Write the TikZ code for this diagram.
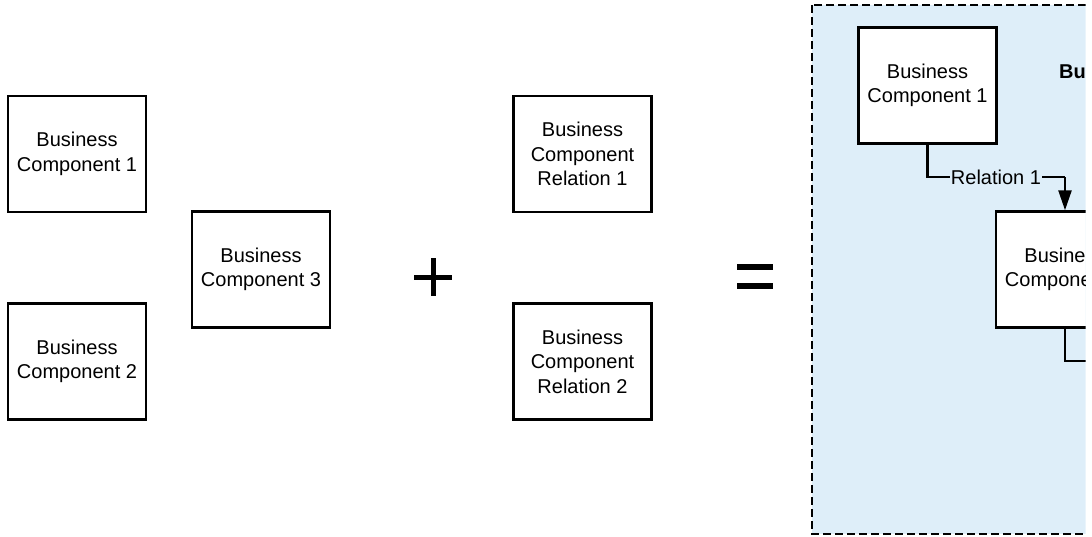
\documentclass[tikz,border=0pt]{standalone}
\usepackage{fontspec}
\setmainfont{Liberation Sans}
\usetikzlibrary{arrows.meta}
\definecolor{groupfill}{HTML}{DEEEF9}
\tikzset{
  x=1pt, y=-1pt,
  comp/.style={draw=black, line width=2.4pt, fill=white, minimum width=138pt, minimum height=116pt,
    inner sep=0pt, align=center, font=\fontsize{20pt}{24.5pt}\selectfont},
  link/.style={draw=black, line width=2.4pt},
  rel/.style={link, -{Triangle[length=20pt,width=13pt]}},
  bar/.style={fill=black, draw=none},
}
\begin{document}
\begin{tikzpicture}
\useasboundingbox (0,0) rectangle (1092,536);
% left side
\node[comp] (bc1) at (77,154) {Business\\Component 1};
\node[comp] (bc2) at (77,361.5) {Business\\Component 2};
\node[comp] (bc3) at (261,269.5) {Business\\Component 3};
% plus
\fill[bar] (414,274.5) rectangle (452,279.5);
\fill[bar] (430.5,258) rectangle (435.5,296);
% relations
\node[comp] (r1) at (582.5,154) {Business\\Component\\Relation 1};
\node[comp] (r2) at (582.5,361.5) {Business\\Component\\Relation 2};
% equals
\fill[bar] (737,264) rectangle (773,270);
\fill[bar] (737,283) rectangle (773,289);
% right group (clipped at the right edge)
\begin{scope}
\clip (0,0) rectangle (1085.5,536);
\draw[fill=groupfill, line width=2.8pt, dash pattern=on 8pt off 4pt] (812,5) rectangle (1200,534);
\node[comp] (g1) at (927.5,85.5) {Business\\Component 1};
\node[anchor=base west, font=\bfseries\fontsize{20pt}{24pt}\selectfont, inner sep=0pt] (title) at (1059,78) {Business};
\node[comp] (g3) at (1065,269.5) {Business\\Component 3};
\coordinate (c1) at (1065,177);
\coordinate (c2) at (1140,361);
\draw[link] (g1.south) |- (c1);
\draw[rel] (c1) -- (g3.north);
\node[fill=groupfill, inner sep=1pt, font=\fontsize{20pt}{24pt}\selectfont] (lbl) at (996,177) {Relation 1};
\draw[link] (g3.south) |- (c2);
\end{scope}
\end{tikzpicture}
\end{document}
